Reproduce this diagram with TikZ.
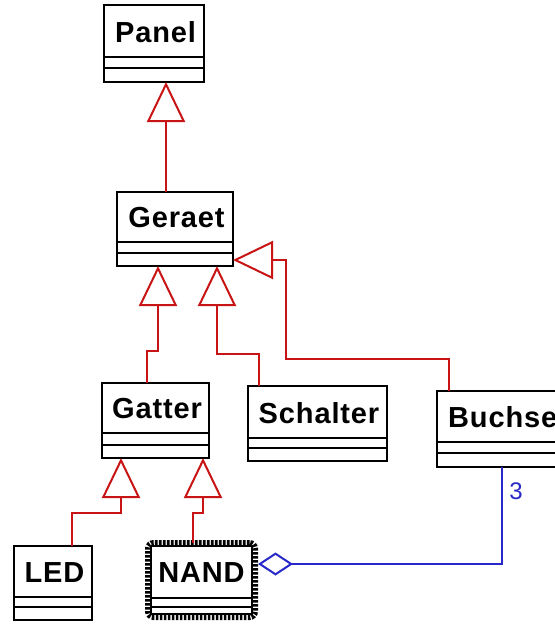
\documentclass[tikz,border=0pt]{standalone}
\usepackage{fontspec}
\setmainfont{Liberation Sans}
\newfontfamily\umlfont[LetterSpace=3]{Liberation Sans}
\usetikzlibrary{arrows.meta}
\definecolor{genred}{RGB}{200,20,20}
\definecolor{aggblue}{RGB}{40,40,200}
\tikzset{
  classbox/.style={draw=black, line width=2pt, fill=white, inner sep=0pt, outer sep=0pt},
  divider/.style={draw=black, line width=2pt},
  nametext/.style={font=\umlfont\bfseries\fontsize{29}{29}\selectfont, inner sep=0pt},
  multtext/.style={font=\fontsize{24}{24}\selectfont, text=aggblue, inner sep=0pt},
  selbox/.style={draw=black, line width=5pt, dash pattern=on 2.6pt off 1.4pt, rounded corners=6pt, fill=white, inner sep=0pt, outer sep=0pt},
  gen/.style={draw=genred, line width=2pt, -{Triangle[open, length=40pt, width=38pt, fill=white]}},
  agg/.style={draw=aggblue, line width=2pt, -{Diamond[open, length=35pt, width=23pt, fill=white]}}
}
% #1 id, #2 x1, #3 y1, #4 x2, #5 y2, #6 divider1, #7 divider2, #8 name
\newcommand{\umlbox}[8]{%
  \node[classbox, anchor=north west, minimum width={(#4-#2)*1pt}, minimum height={(#5-#3)*1pt}] (#1) at (#2,-#3) {};
  \draw[divider] (#1.west |- 0,-#6) -- (#1.east |- 0,-#6);
  \draw[divider] (#1.west |- 0,-#7) -- (#1.east |- 0,-#7);
  \node[nametext] (#1-name) at ({(#2+#4)/2+1.5},{-(#3+#6)/2-1}) {#8};
}
\begin{document}
\begin{tikzpicture}[x=1pt, y=1pt]
\useasboundingbox (0,0) rectangle (555,-625);
\clip (0,0) rectangle (555,-625);
\fill[white] (0,0) rectangle (555,-625);

% classes
\umlbox{panel}{104}{5}{204}{82}{57}{68}{Panel}
\umlbox{geraet}{117}{192}{233}{266}{242}{253}{Geraet}
\umlbox{gatter}{102}{383}{209}{458}{433}{445}{Gatter}
\umlbox{schalter}{248}{386}{387}{461}{438}{448}{Schalter}
\umlbox{led}{14}{546}{92}{620}{597}{607}{LED}

% Buchse (cut at right border)
\node[classbox, anchor=north west, minimum width=133pt, minimum height=76pt] (buchse) at (437,-391) {};
\draw[divider] (buchse.west |- 0,-442) -- (buchse.east |- 0,-442);
\draw[divider] (buchse.west |- 0,-453) -- (buchse.east |- 0,-453);
\node[nametext, anchor=west] (buchse-name) at (448,-417.5) {Buchse};

% NAND (selected)
\node[selbox, anchor=north west, minimum width=108pt, minimum height=75pt] (nand) at (147.5,-542.5) {};
\draw[line width=2pt] ([shift={(3.5pt,-3.5pt)}]nand.north west) rectangle ([shift={(-3.5pt,3.5pt)}]nand.south east);
\draw[divider] ([xshift=3.5pt]nand.west |- 0,-598) -- ([xshift=-3.5pt]nand.east |- 0,-598);
\draw[divider] ([xshift=3.5pt]nand.west |- 0,-607) -- ([xshift=-3.5pt]nand.east |- 0,-607);
\node[nametext] (nand-name) at (201.5,-573) {NAND};

% generalisations
\draw[gen] ([xshift=49pt]geraet.north west) -- ([xshift=62pt]panel.south west);
\draw[gen] ([xshift=45pt]gatter.north west) |- (158,-351) -- ([xshift=41pt]geraet.south west);
\draw[gen] ([xshift=11pt]schalter.north west) |- (217,-354) -- ([xshift=100pt]geraet.south west);
\draw[gen] ([xshift=12pt]buchse.north west) |- (286,-359) |- ([yshift=6pt]geraet.south east);
\draw[gen] ([xshift=58pt]led.north west) |- (121,-513) -- ([xshift=19pt]gatter.south west);
\draw[gen] ([xshift=45.5pt]nand.north west) |- (203,-513) -- ([xshift=101pt]gatter.south west);

% aggregation
\draw[agg] ([xshift=65pt]buchse.south west) |- ([shift={(2.5pt,16pt)}]nand.east);
\node[multtext] (mult) at (516,-491) {3};
\end{tikzpicture}
\end{document}
